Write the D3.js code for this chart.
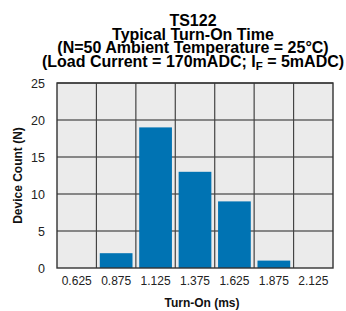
<!DOCTYPE html>
<html><head><meta charset="utf-8">
<script src="https://cdn.jsdelivr.net/npm/d3@7"></script>
<style>body{margin:0;background:#fff}svg{display:block}text{font-family:"Liberation Sans",Arial,sans-serif}</style>
</head><body><svg id="c" width="346" height="311"></svg>
<script>
const categories = ["0.625","0.875","1.125","1.375","1.625","1.875","2.125"];
const counts = [0, 2, 19, 13, 9, 1, 0];
const yTicks = [0, 5, 10, 15, 20, 25];
const titleLines = ["TS122","Typical Turn-On Time","(N=50 Ambient Temperature = 25°C)"];

const svg = d3.select("#c");
const m = {l:57, r:333, t:83, b:268};
const x = d3.scaleBand().domain(categories).range([m.l, m.r]).paddingInner(0.17).paddingOuter(0.085);
const xb = d3.scaleBand().domain(categories).range([m.l, m.r]);
const y = d3.scaleLinear().domain([0,25]).range([m.b, m.t]);

svg.append("rect").attr("x", m.l).attr("y", m.t).attr("width", m.r-m.l).attr("height", m.b-m.t).attr("fill", "#ebebeb");

const g = svg.append("g");
g.selectAll("line.h").data(yTicks.slice(1)).join("line")
  .attr("x1", m.l).attr("x2", m.r).attr("y1", d=>y(d)).attr("y2", d=>y(d))
  .attr("stroke", "#222").attr("stroke-width", 1.2);
g.selectAll("line.v").data(categories.slice(1)).join("line")
  .attr("x1", d=>xb(d)).attr("x2", d=>xb(d)).attr("y1", m.t).attr("y2", m.b)
  .attr("stroke", "#444").attr("stroke-width", 1.2);

svg.selectAll("rect.bar").data(categories).join("rect")
  .attr("x", d=>x(d)).attr("width", x.bandwidth())
  .attr("y", (d,i)=>y(counts[i])).attr("height", (d,i)=>y(0)-y(counts[i]))
  .attr("fill", "#0073b3");

svg.append("rect").attr("x", m.l).attr("y", m.t).attr("width", m.r-m.l).attr("height", m.b-m.t)
  .attr("fill", "none").attr("stroke", "#333").attr("stroke-width", 1.4);

const ya = svg.append("g").attr("transform", `translate(${m.l},0)`)
  .call(d3.axisLeft(y).tickValues(yTicks).tickSize(0).tickPadding(12));
ya.select(".domain").remove();
ya.selectAll("text").attr("font-size", 12.5).attr("fill", "#222").style("font-family", '"Liberation Sans",Arial,sans-serif');

const xa = svg.append("g").attr("transform", `translate(0,${m.b})`)
  .call(d3.axisBottom(xb).tickSize(0).tickPadding(8));
xa.select(".domain").remove();
xa.selectAll("text").attr("font-size", 12).attr("fill", "#222").style("font-family", '"Liberation Sans",Arial,sans-serif');

svg.append("text").attr("x", 202).attr("y", 307).attr("text-anchor", "middle")
  .attr("font-size", 12).attr("font-weight", "bold").attr("fill", "#111").text("Turn-On (ms)");
svg.append("text").attr("transform", `translate(22,${(m.t+m.b)/2}) rotate(-90)`).attr("text-anchor", "middle")
  .attr("font-size", 12).attr("font-weight", "bold").attr("fill", "#111").text("Device Count (N)");

const baselines = [26, 40, 53];
titleLines.forEach((t,i)=>{
  svg.append("text").attr("x", 193).attr("y", baselines[i]).attr("text-anchor","middle")
    .attr("font-size", 16).attr("font-weight","bold").attr("fill","#000").text(t);
});
const t4 = svg.append("text").attr("x", 193).attr("y", 66.5).attr("text-anchor","middle")
  .attr("font-size", 16).attr("font-weight","bold").attr("fill","#000");
t4.append("tspan").text("(Load Current = 170mADC; I");
t4.append("tspan").attr("font-size", 11.5).attr("dy", 3).text("F");
t4.append("tspan").attr("dy", -3).text(" = 5mADC)");
</script></body></html>
